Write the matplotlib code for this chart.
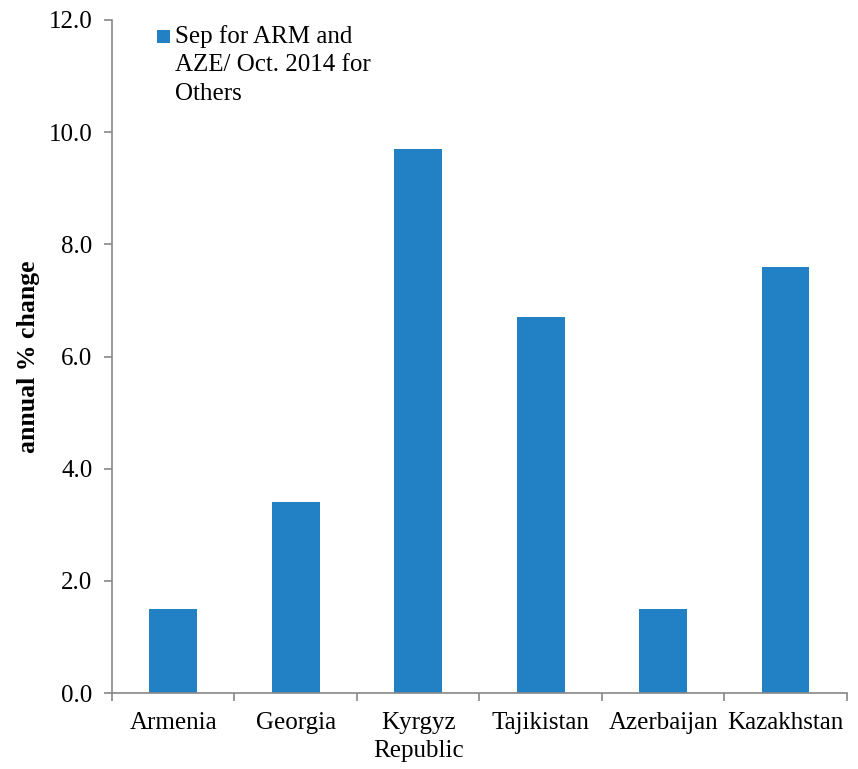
import matplotlib
matplotlib.use("Agg")
import matplotlib.pyplot as plt
from matplotlib.patches import Rectangle

countries = ["Armenia", "Georgia", "Kyrgyz\nRepublic", "Tajikistan", "Azerbaijan", "Kazakhstan"]
inflation = [1.5, 3.4, 9.7, 6.7, 1.5, 7.6]
series_label = "Sep for ARM and\nAZE/ Oct. 2014 for\nOthers"
yticks = [0.0, 2.0, 4.0, 6.0, 8.0, 10.0, 12.0]

plt.rcParams["font.family"] = ["Liberation Serif", "DejaVu Serif"]
bar_color = "#2281C4"
axis_color = "#888888"

fig = plt.figure(figsize=(8.58, 7.69), dpi=100)
ax = fig.add_axes([0.1305, 0.0988, 0.8565, 0.8752])

x = list(range(len(countries)))
ax.bar(x, inflation, width=0.39, color=bar_color, zorder=2)

ax.set_xlim(-0.5, len(countries) - 0.5)
ax.set_ylim(0, 12)
ax.set_yticks(yticks)
ax.set_yticklabels([f"{v:.1f}" for v in yticks], fontsize=18)

ax.set_xticks(x)
ax.set_xticklabels(countries, fontsize=18, linespacing=1.3)
ax.tick_params(axis="x", length=0, pad=14)
ax.set_xticks([i - 0.5 for i in range(len(countries) + 1)], minor=True)
ax.tick_params(axis="x", which="minor", length=6, color=axis_color, width=1.2)
ax.tick_params(axis="y", length=6, color=axis_color, width=1.2, pad=8)

for side in ["top", "right"]:
    ax.spines[side].set_visible(False)
for side in ["left", "bottom"]:
    ax.spines[side].set_color(axis_color)
    ax.spines[side].set_linewidth(1.2)

ax.set_ylabel("annual % change", fontsize=18.5, fontweight="bold")
ax.yaxis.set_label_coords(-0.098, 0.5)

# legend: square key aligned with the first line of the wrapped label
key_x0 = (157 - 112) / 735
key_w = 13 / 735
key_h = 13 / 673
key_top = 1 - (30 - 20) / 673
ax.add_patch(Rectangle((key_x0, key_top - key_h), key_w, key_h, transform=ax.transAxes,
                       facecolor=bar_color, edgecolor="none", clip_on=False))
ax.text((175 - 112) / 735, 1 - (25 - 20) / 673, series_label, transform=ax.transAxes,
        fontsize=18, va="top", ha="left", linespacing=1.38)

fig.savefig("out.png", dpi=100, facecolor="white")
